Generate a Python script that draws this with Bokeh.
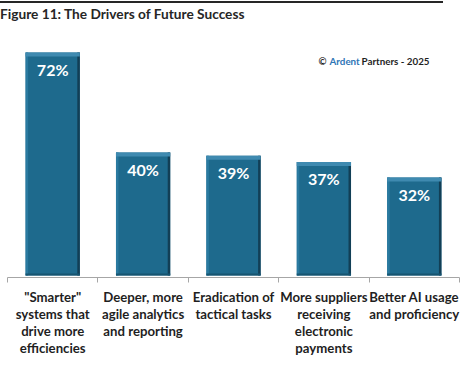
from bokeh.plotting import figure
from bokeh.models import Range1d, FixedTicker, Label, Div
from bokeh.layouts import column
from bokeh.core.properties import value
from bokeh.embed import file_html
from bokeh.resources import INLINE

# ---- data ----
categories = [
    '"Smarter"\nsystems that\ndrive more\nefficiencies',
    'Deeper, more\nagile analytics\nand reporting',
    'Eradication of\ntactical tasks',
    'More suppliers\nreceiving\nelectronic\npayments',
    'Better AI usage\nand proficiency',
]
values = [72, 40, 39, 37, 32]
value_labels = ["72%", "40%", "39%", "37%", "32%"]
title_text = "Figure 11: The Drivers of Future Success"
source_parts = ["\u00a9", "Ardent", "Partners - 2025"]

FONT = "Lato"
BAR = "#1E6A8D"
BAR_LIGHT = "#3F8AB0"
BAR_DARK = "#123F56"
BAR_MID = "#175570"
AXIS = "#A6A6A6"
TEXT = "#1F1F1F"

n = len(categories)
xc = [i + 0.5 for i in range(n)]
W = 0.6
YMAX = 80

fig_w, fig_h = 466, 355
b_left, b_right, b_top, b_bottom = 7, 7, 3, 102
px_x = (fig_w - b_left - b_right) / n        # pixels per category unit
px_y = (fig_h - b_top - b_bottom) / YMAX      # pixels per percent

p = figure(width=fig_w, height=fig_h, x_range=Range1d(0, n), y_range=Range1d(0, YMAX),
           output_backend="svg", toolbar_location=None,
           min_border_left=b_left, min_border_right=b_right,
           min_border_top=b_top, min_border_bottom=b_bottom,
           outline_line_color=None)
p.yaxis.visible = False
p.grid.visible = False

ax = p.xaxis[0]
ax.ticker = FixedTicker(ticks=xc, minor_ticks=list(range(n + 1)))
ax.major_label_overrides = {x: c for x, c in zip(xc, categories)}
ax.major_tick_line_color = None
ax.major_tick_in = 0
ax.major_tick_out = 0
ax.minor_tick_in = 0
ax.minor_tick_out = 5
ax.minor_tick_line_color = AXIS
ax.axis_line_color = AXIS
ax.major_label_text_font = FONT
ax.major_label_text_font_style = "bold"
ax.major_label_text_font_size = "13.2px"
ax.major_label_text_color = TEXT
ax.major_label_text_line_height = 1.08
ax.major_label_standoff = 6

left = [x - W / 2 for x in xc]
right = [x + W / 2 for x in xc]
base = [2 / px_y] * n

p.quad(left=left, right=right, bottom=base, top=values, fill_color=BAR, line_color=None)
ex = 2.5 / px_x
ey = 4 / px_y
p.quad(left=left, right=[l + ex for l in left], bottom=base, top=values,
       fill_color="#2A7AA0", line_color=None)
p.quad(left=[r - ex for r in right], right=right, bottom=base, top=values,
       fill_color=BAR_DARK, line_color=None)
p.quad(left=left, right=right, bottom=base, top=[b + 2 / px_y for b in base],
       fill_color=BAR_MID, line_color=None)
p.quad(left=left, right=right, bottom=[v - ey for v in values], top=values,
       fill_color=BAR_LIGHT, line_color=None)

p.text(x=xc, y=values, text=value_labels, y_offset=17,
       text_align="center", text_baseline="middle", text_color="white",
       text_font=value(FONT), text_font_style="bold", text_font_size="16px")

src_y = 69.4
src_x = [(318 - b_left) / px_x, (329 - b_left) / px_x, (361 - b_left) / px_x]
src_col = [TEXT, "#2E75B6", TEXT]
for sx, st, sc in zip(src_x, source_parts, src_col):
    p.add_layout(Label(x=sx, y=src_y, text=st, text_color=sc, text_font=FONT,
                       text_font_style="bold", text_font_size="9.8px",
                       text_baseline="middle", text_align="left"))

div = Div(text=('<div style="border-top:2px solid #262626; width:443px; margin-top:1px; '
                'padding-top:3px; font-family:Lato; font-weight:bold; font-size:13.7px; '
                'color:#262626; line-height:16px; white-space:nowrap;">' + title_text + '</div>'),
          width=fig_w, height=24, margin=0)

layout = column(div, p, spacing=0)

open("out.html", "w").write(file_html(layout, INLINE))
